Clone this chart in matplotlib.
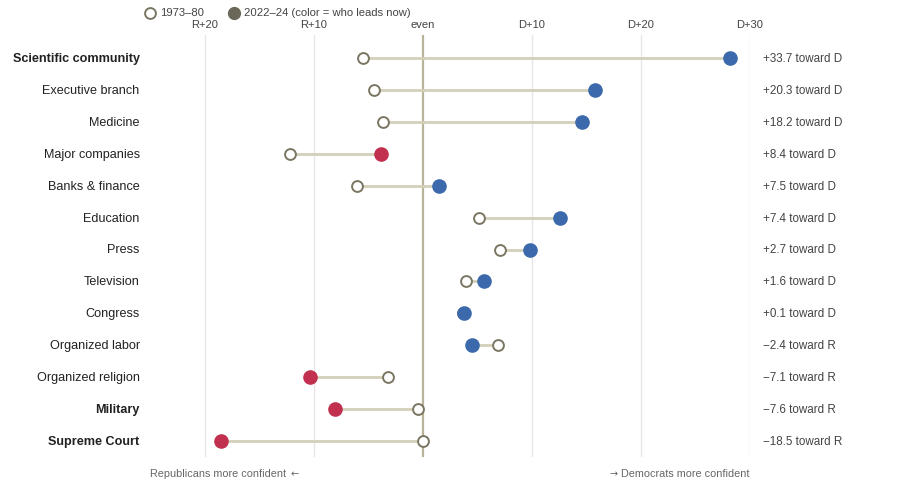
import matplotlib.pyplot as plt
from matplotlib.lines import Line2D

plt.rcParams['font.family'] = ['Liberation Sans', 'DejaVu Sans']

institutions = ["Scientific community", "Executive branch", "Medicine", "Major companies",
                "Banks & finance", "Education", "Press", "Television", "Congress",
                "Organized labor", "Organized religion", "Military", "Supreme Court"]
old_gap = [-5.5, -4.5, -3.6, -12.2, -6.0, 5.2, 7.1, 4.0, 3.7, 6.9, -3.2, -0.4, 0.0]
new_gap = [28.2, 15.8, 14.6, -3.8, 1.5, 12.6, 9.8, 5.6, 3.8, 4.5, -10.3, -8.0, -18.5]
shift_labels = ["+33.7 toward D", "+20.3 toward D", "+18.2 toward D", "+8.4 toward D",
                "+7.5 toward D", "+7.4 toward D", "+2.7 toward D", "+1.6 toward D",
                "+0.1 toward D", "\u22122.4 toward R", "\u22127.1 toward R",
                "\u22127.6 toward R", "\u221218.5 toward R"]
bold_rows = ["Scientific community", "Military", "Supreme Court"]
tick_vals = [-20, -10, 0, 10, 20, 30]
tick_labels = ["R+20", "R+10", "even", "D+10", "D+20", "D+30"]

blue = "#3b69ab"
red = "#c1314f"
line_col = "#d3cfb8"
hollow_edge = "#7a7662"

fig = plt.figure(figsize=(9, 4.86), dpi=100)
ax = fig.add_axes([150 / 900, 1 - 457 / 486, 600 / 900, 422 / 486])

for t in tick_vals:
    if t == 0:
        ax.axvline(t, color="#b8b499", lw=1.6, zorder=1)
    else:
        ax.axvline(t, color="#e6e6e6", lw=1, zorder=0)

for i, name in enumerate(institutions):
    o, n = old_gap[i], new_gap[i]
    ax.plot([o, n], [i, i], color=line_col, lw=2, zorder=2, solid_capstyle="butt")
    col = blue if n > 0 else red
    ax.plot(o, i, "o", ms=7.8, mfc="white", mec=hollow_edge, mew=1.4, zorder=4)
    ax.plot(n, i, "o", ms=9.5, color=col, mec=col, zorder=5)
    ax.text(-25.95, i + 0.03, name, ha="right", va="center", fontsize=9.1, color="#222222",
            fontweight="bold" if name in bold_rows else "normal")
    ax.text(31.2, i + 0.03, shift_labels[i], ha="left", va="center", fontsize=8.4,
            color="#444444")

ax.set_xlim(-25, 30)
ax.set_ylim(12.5, -0.72)
ax.xaxis.tick_top()
ax.set_xticks(tick_vals)
ax.set_xticklabels(tick_labels, fontsize=8, color="#444444")
ax.tick_params(axis="x", length=0, pad=3.5)
ax.set_yticks([])
for s in ax.spines.values():
    s.set_visible(False)

# direction notes under the plot, arrows drawn in DejaVu for a fuller glyph
left_note = ax.text(-25, 13.03, "Republicans more confident", ha="left", va="center",
                    fontsize=7.8, color="#666666")
ax.annotate("\u2190", xy=(1, 0.5), xycoords=left_note, xytext=(3, 0),
            textcoords="offset points", ha="left", va="center", fontsize=7,
            color="#666666", family="DejaVu Sans")
right_note = ax.text(30, 13.03, "Democrats more confident", ha="right", va="center",
                     fontsize=7.8, color="#666666")
ax.annotate("\u2192", xy=(0, 0.5), xycoords=right_note, xytext=(-3, 0),
            textcoords="offset points", ha="right", va="center", fontsize=7,
            color="#666666", family="DejaVu Sans")

# legend across the top
fig.add_artist(Line2D([150 / 900], [1 - 13 / 486], marker="o", ms=7.8, mfc="white",
                      mec=hollow_edge, mew=1.4, ls="none"))
fig.text(160 / 900, 1 - 13 / 486, "1973\u201380", ha="left", va="center",
         fontsize=8.1, color="#444444")
fig.add_artist(Line2D([234 / 900], [1 - 13 / 486], marker="o", ms=8.5, color="#6b6758",
                      ls="none"))
fig.text(244 / 900, 1 - 13 / 486, "2022\u201324 (color = who leads now)", ha="left",
         va="center", fontsize=8.1, color="#444444")

fig.savefig("out.png", dpi=100)
